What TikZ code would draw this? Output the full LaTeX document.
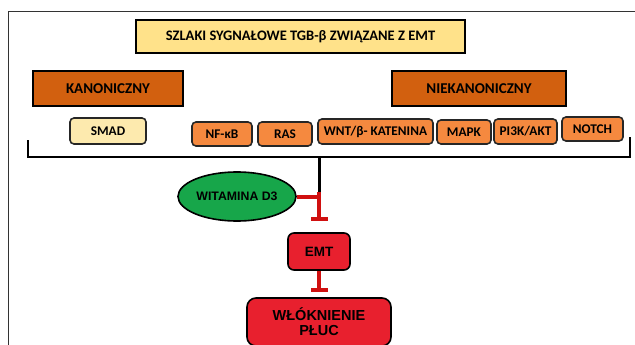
\documentclass[tikz,border=0pt]{standalone}
\usepackage{fontspec}
\setmainfont{Carlito}
\newfontfamily\arialfont{Liberation Sans}
\usetikzlibrary{shapes.geometric,arrows.meta}
\definecolor{titlefill}{HTML}{FFE28A}
\definecolor{darkorange}{HTML}{D2600F}
\definecolor{lightorange}{HTML}{F5893F}
\definecolor{smadfill}{HTML}{FDEAAE}
\definecolor{vitgreen}{HTML}{17A64A}
\definecolor{emtred}{HTML}{E8202E}
\definecolor{inhib}{HTML}{D01010}
\tikzset{
  headbox/.style={draw=black, line width=2.2pt, inner sep=0pt, font=\bfseries\fontsize{14.5}{16}\selectfont},
  pathbox/.style={draw=black!85, line width=1.6pt, rounded corners=4pt, fill=lightorange, inner sep=0pt, font=\bfseries\fontsize{13.3}{15}\selectfont},
  redbox/.style={draw=black, line width=1.6pt, rounded corners=6pt, fill=emtred, inner sep=0pt, font=\arialfont\bfseries},
  inhibit/.style={draw=inhib, line width=4pt, -{Bar[width=17pt,line width=4pt]}},
  bracketline/.style={draw=black, line width=1.8pt},
}
\begin{document}
\begin{tikzpicture}[x=1pt,y=-1pt]
\useasboundingbox (0,0) rectangle (635,345);
% frame
\draw[black!80, line width=1pt] (8,345) -- (8,12) -- (635,12);
% header boxes
\node[headbox, fill=titlefill, minimum width=329pt, minimum height=33pt] (title) at (300.5,36.5) {SZLAKI SYGNAŁOWE TGB-β ZWIĄZANE Z EMT};
\node[headbox, fill=darkorange, minimum width=150pt, minimum height=35pt, font=\bfseries\fontsize{15}{17}\selectfont] (kan) at (108,88.5) {KANONICZNY};
\node[headbox, fill=darkorange, minimum width=174pt, minimum height=35pt, font=\bfseries\fontsize{15}{17}\selectfont] (niek) at (479,88.5) {NIEKANONICZNY};
% pathway boxes
\node[pathbox, fill=smadfill, minimum width=76pt, minimum height=26pt] (smad) at (108,131) {SMAD};
\node[pathbox, minimum width=60pt, minimum height=24pt] (nfkb) at (222,134) {NF-κB};
\node[pathbox, minimum width=54pt, minimum height=24pt] (ras) at (285,134) {RAS};
\node[pathbox, minimum width=115pt, minimum height=25pt] (wnt) at (375.5,131.5) {WNT/β- KATENINA};
\node[pathbox, minimum width=54pt, minimum height=24pt] (mapk) at (464,132) {MAPK};
\node[pathbox, minimum width=63pt, minimum height=25pt] (pi3k) at (525.5,131.5) {PI3K/AKT};
\node[pathbox, minimum width=61pt, minimum height=24pt] (notch) at (592.5,129) {NOTCH};
% bracket
\coordinate (bl) at (28,140);
\coordinate (blb) at (28,157);
\coordinate (brb) at (630,157);
\coordinate (br) at (630,137);
\coordinate (stem) at (319,157);
\draw[bracketline] (bl) -- (blb) -- (brb) -- (br);
% lower part
\node[ellipse, draw=black, line width=1.6pt, fill=vitgreen, minimum width=118pt, minimum height=49pt, inner sep=0pt, font=\arialfont\bfseries\fontsize{12.3}{14}\selectfont] (vit) at (237,196.5) {WITAMINA D3};
\node[redbox, minimum width=62pt, minimum height=37pt, font=\arialfont\bfseries\fontsize{13.5}{15}\selectfont] (emt) at (319,251.5) {EMT};
\node[redbox, minimum width=144pt, minimum height=48pt, rounded corners=9pt, align=center, font=\arialfont\bfseries\fontsize{14.5}{15}\selectfont] (wlok) at (319,322) {WŁÓKNIENIE\\PŁUC};
\coordinate (junc) at (319,192);
\draw[black, line width=3pt] (stem) -- (junc);
\draw[inhibit, shorten >=11pt] (junc) -- (emt.north);
\draw[draw=inhib, line width=4pt] (vit.east) -- (vit.east -| junc);
\draw[inhibit, shorten >=5pt] (emt.south) -- (wlok.north);
\end{tikzpicture}
\end{document}
